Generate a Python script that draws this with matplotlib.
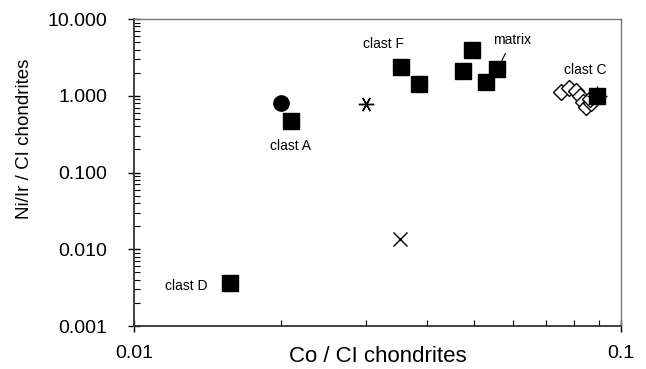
import matplotlib.pyplot as plt

plt.rcParams["font.family"] = ["Liberation Sans", "DejaVu Sans"]

# Co / CI  vs  Ni/Ir / CI for the clasts and matrix
clast_a_sq = ([0.0210], [0.47])
clast_a_circ = ([0.0200], [0.80])
clast_d = ([0.01575], [0.0036])
clast_f = ([0.0353, 0.0385], [2.37, 1.42])
matrix = ([0.0474, 0.0494, 0.0528, 0.0556], [2.10, 3.95, 1.51, 2.23])
clast_c_fill = ([0.0893], [0.99])
clast_c_open = ([0.0753, 0.0782, 0.0808, 0.0824, 0.0836, 0.0848, 0.0868, 0.0864],
                [1.12, 1.26, 1.15, 0.99, 0.83, 0.71, 0.80, 0.91])
star_pt = ([0.0300], [0.78])
cross_pt = ([0.0352], [0.0136])

fig = plt.figure(figsize=(6.46, 3.69), dpi=100)
ax = fig.add_axes([0.2074, 0.1165, 0.7539, 0.832])

ax.plot(*clast_c_open, ls="none", marker="D", ms=8.5, mfc="white", mec="black", mew=1.0)
ax.plot(*clast_c_fill, ls="none", marker="+", ms=14, color="black", mew=1.0)
for xs, ys in [clast_a_sq, clast_d, clast_f, matrix, clast_c_fill]:
    ax.plot(xs, ys, ls="none", marker="s", ms=12, color="black")
ax.plot(*clast_a_circ, ls="none", marker="o", ms=11, color="black")
ax.plot(*star_pt, ls="none", marker=(6, 2, 90), ms=11, color="black", mew=1.0)
ax.plot(*cross_pt, ls="none", marker="x", ms=10, color="black", mew=1.0)

ax.set_xscale("log")
ax.set_yscale("log")
ax.set_xlim(0.01, 0.1)
ax.set_ylim(0.001, 10)
ax.set_xticks([0.01, 0.1])
ax.set_xticklabels(["0.01", "0.1"])
ax.set_yticks([0.001, 0.01, 0.1, 1, 10])
ax.set_yticklabels(["0.001", "0.010", "0.100", "1.000", "10.000"])

ax.tick_params(which="major", direction="inout", length=8, width=1.0, labelsize=14)
ax.tick_params(which="minor", direction="in", length=4, width=0.8)
ax.tick_params(axis="x", which="major", pad=10)
ax.tick_params(axis="y", which="major", pad=15)
ax.xaxis.set_minor_formatter(plt.NullFormatter())
ax.yaxis.set_minor_formatter(plt.NullFormatter())

for side in ["left", "bottom"]:
    ax.spines[side].set_color("#333333")
    ax.spines[side].set_linewidth(1.3)
for side in ["top", "right"]:
    ax.spines[side].set_color("#777777")
    ax.spines[side].set_linewidth(1.0)

ax.set_xlabel("Co / CI chondrites", fontsize=16)
ax.xaxis.set_label_coords(0.5, -0.066, transform=ax.transAxes)
ax.xaxis.label.set_va("top")
ax.set_ylabel("Ni/Ir / CI chondrites", fontsize=13.5)
ax.yaxis.set_label_coords(-0.208, 0.61)

lbl = dict(fontsize=10, ha="center", va="center")
ax.text(0.0210, 0.221, "clast A", **lbl)
ax.text(0.0128, 0.00332, "clast D", **lbl)
ax.text(0.0326, 4.72, "clast F", **lbl)
ax.text(0.0844, 2.17, "clast C", **lbl)
ax.annotate("matrix", xy=(0.0565, 2.59), xytext=(0.0597, 5.33), **lbl,
            arrowprops=dict(arrowstyle="-", color="black", lw=0.8, shrinkA=3, shrinkB=0))

fig.savefig("out.png", dpi=100)
